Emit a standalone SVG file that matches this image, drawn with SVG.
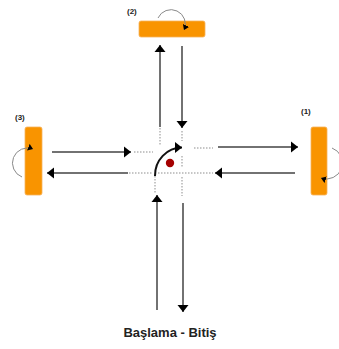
<svg xmlns="http://www.w3.org/2000/svg" width="339" height="349" viewBox="0 0 339 349">
  <defs>
    <marker id="head" markerUnits="userSpaceOnUse" markerWidth="8" markerHeight="12" refX="7" refY="6" orient="auto">
      <path d="M0,0.5 L7,6 L0,11.5 Z" fill="#000"/>
    </marker>
    <marker id="headSmall" markerUnits="userSpaceOnUse" markerWidth="6" markerHeight="7" refX="5" refY="3.5" orient="auto">
      <path d="M0,0 L5,3.5 L0,7 Z" fill="#000"/>
    </marker>
    <style>
      .station { fill: #f99400; stroke: #f6b25a; stroke-width: 0.8; }
      .label { font-family: "Liberation Sans", Arial, sans-serif; font-weight: bold; font-size: 8px; fill: #222; }
      .title { font-family: "Liberation Sans", Arial, sans-serif; font-weight: bold; font-size: 13px; fill: #222; }
      .rot { fill: none; stroke: #8a8a8a; stroke-width: 1; marker-end: url(#headSmall); }
      .path { fill: none; stroke: #727272; stroke-width: 2; marker-end: url(#head); }
      .guide { fill: none; stroke: #b4b4b4; stroke-width: 1.5; stroke-dasharray: 1.5 1.5; }
    </style>
  </defs>

  <!-- stations -->
  <g id="station-2">
    <rect class="station" x="139" y="21" width="66" height="16" rx="2"/>
    <path class="rot" d="M158,18 A14,14 0 1 1 184,30"/>
    <text class="label" x="127" y="14">(2)</text>
  </g>
  <g id="station-3">
    <rect class="station" x="25" y="127" width="17" height="68" rx="2"/>
    <path class="rot" d="M22,177 A14.5,14.5 0 1 1 33,149"/>
    <text class="label" x="15" y="120">(3)</text>
  </g>
  <g id="station-1">
    <rect class="station" x="311" y="127" width="16" height="68" rx="2"/>
    <path class="rot" d="M332,148 A15,15 0 1 1 321,178"/>
    <text class="label" x="301" y="114">(1)</text>
  </g>

  <!-- centre -->
  <g id="centre">
    <circle cx="170" cy="163" r="4.2" fill="#a50000"/>
  </g>

  <g id="connectors">
    <!-- dotted guide lines through the crossing -->
    <line class="guide" x1="160" y1="128" x2="160" y2="145"/>
    <line class="guide" x1="182" y1="131" x2="182" y2="141"/>
    <line class="guide" x1="182" y1="156" x2="182" y2="168"/>
    <line class="guide" x1="182" y1="177" x2="182" y2="196"/>
    <line class="guide" x1="155" y1="176" x2="155" y2="193"/>
    <line class="guide" x1="134" y1="152" x2="153" y2="152"/>
    <line class="guide" x1="194" y1="148" x2="213" y2="148"/>
    <line class="guide" x1="129" y1="173" x2="153" y2="173"/>
    <line class="guide" x1="158" y1="173" x2="213" y2="173"/>

    <!-- vertical lanes -->
    <line class="path" x1="160" y1="127" x2="160" y2="45"/>
    <line class="path" x1="182" y1="46" x2="182" y2="128"/>
    <line class="path" x1="157" y1="310" x2="157" y2="195"/>
    <line class="path" x1="183" y1="203" x2="183" y2="312"/>

    <!-- horizontal lanes -->
    <line class="path" x1="52" y1="152" x2="131" y2="152"/>
    <line class="path" x1="128" y1="173" x2="47" y2="173"/>
    <line class="path" x1="218" y1="147" x2="298" y2="147"/>
    <line class="path" x1="295" y1="173" x2="215" y2="173"/>

    <!-- turning arc -->
    <path d="M155,176 A27,28 0 0 1 182,147.5" fill="none" stroke="#111" stroke-width="2" marker-end="url(#head)"/>
  </g>

  <text class="title" x="170" y="337" text-anchor="middle">Başlama - Bitiş</text>
</svg>
